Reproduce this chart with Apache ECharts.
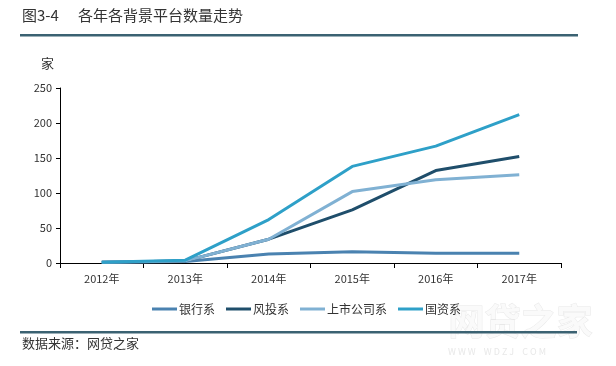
<!DOCTYPE html>
<html><head><meta charset="utf-8">
<script src="https://cdn.jsdelivr.net/npm/echarts@6/dist/echarts.min.js"></script>
<style>html,body{margin:0;padding:0;background:#fff}#c{width:616px;height:366px}</style>
</head><body><div id="c"></div>
<script>
const categories = ['2012年','2013年','2014年','2015年','2016年','2017年'];
const bank = [1, 2, 13, 16, 14, 14];
const vc = [1, 3, 34, 76, 132, 152];
const listed = [1, 3, 34, 102, 119, 126];
const state = [1, 4, 62, 138, 167, 212];
const seriesNames = ['银行系','风投系','上市公司系','国资系'];
const colors = ['#4a82b0','#1f4e6b','#80b1d3','#2ea0c8'];
const F = '"Microsoft YaHei","Noto Sans CJK SC",sans-serif';
const chart = echarts.init(document.getElementById('c'));
const mk = (name, data, color) => ({
  name, type: 'line', data, symbol: 'none', smooth: false,
  lineStyle: { color, width: 3 }, itemStyle: { color }
});
chart.setOption({
  animation: false,
  textStyle: { fontFamily: F },
  graphic: [
    { type: 'text', left: 448, top: 303, z: -1, style: { text: '网贷之家', font: 'bold 36px ' + F, fill: '#fafafa', stroke: '#e8e8e8', lineWidth: 1 } },
    { type: 'text', left: 448, top: 347, z: -1, style: { text: 'W W W    W D Z J    C O M', font: '9px ' + F, fill: '#e8e8e8' } },
    { type: 'text', left: 22, top: 8, style: { text: '图3-4', font: '15px ' + F, fill: '#333' } },
    { type: 'text', left: 78, top: 8, style: { text: '各年各背景平台数量走势', font: '15px ' + F, fill: '#333' } },
    { type: 'rect', shape: { x: 20, y: 34, width: 558, height: 2.5 }, style: { fill: '#3b6272' } },
    { type: 'rect', shape: { x: 20, y: 331, width: 557, height: 2.5 }, style: { fill: '#3b6272' } },
    { type: 'text', left: 22, top: 337, style: { text: '数据来源：网贷之家', font: '13px ' + F, fill: '#333' } }
  ],
  grid: { left: 60, right: 55, top: 88, bottom: 103, containLabel: false },
  legend: {
    data: seriesNames, top: 298, left: 147, itemWidth: 25, itemHeight: 3, itemGap: 11,
    icon: 'rect', textStyle: { fontSize: 12, color: '#333', fontFamily: F, padding: [0,0,0,-3] }
  },
  xAxis: {
    type: 'category', data: categories, boundaryGap: true,
    axisLine: { lineStyle: { color: '#000', width: 1 } },
    axisTick: { show: true, length: 5, inside: false, lineStyle: { color: '#000' } },
    axisLabel: { color: '#333', fontSize: 11, margin: 10 }
  },
  yAxis: {
    type: 'value', min: 0, max: 250, interval: 50,
    name: '家', nameLocation: 'end', nameGap: 18, nameTextStyle: { color: '#333', fontSize: 13, align: 'right', padding: [0, 6, 0, 0] },
    axisLine: { show: true, lineStyle: { color: '#000', width: 1 } },
    axisTick: { show: true, length: 4, lineStyle: { color: '#000' } },
    splitLine: { show: false },
    axisLabel: { color: '#333', fontSize: 11, margin: 8 }
  },
  series: [
    mk(seriesNames[0], bank, colors[0]),
    mk(seriesNames[1], vc, colors[1]),
    mk(seriesNames[2], listed, colors[2]),
    mk(seriesNames[3], state, colors[3])
  ]
});
</script></body></html>
